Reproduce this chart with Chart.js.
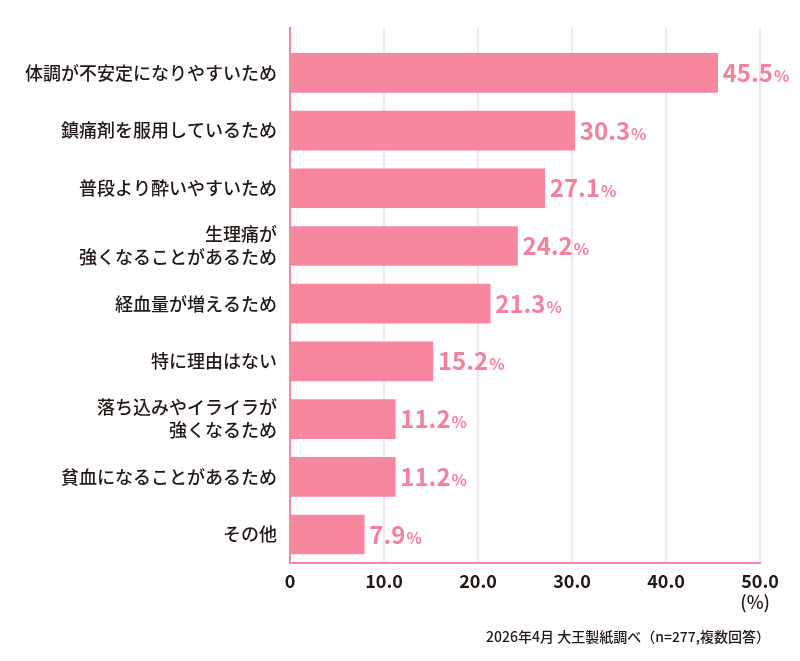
<!DOCTYPE html>
<html>
<head>
<meta charset="utf-8">
<script src="https://cdn.jsdelivr.net/npm/chart.js@4"></script>
<style>
  html, body { margin: 0; padding: 0; background: #fff; }
  #wrap { width: 800px; height: 661px; }
</style>
</head>
<body>
<div id="wrap"><canvas id="reasonChart" width="800" height="661"></canvas></div>
<script>
const categories = [
    '体調が不安定になりやすいため',
    '鎮痛剤を服用しているため',
    '普段より酔いやすいため',
    ['生理痛が', '強くなることがあるため'],
    '経血量が増えるため',
    '特に理由はない',
    ['落ち込みやイライラが', '強くなるため'],
    '貧血になることがあるため',
    'その他'
];
const percentages = [45.5, 30.3, 27.1, 24.2, 21.3, 15.2, 11.2, 11.2, 7.9];
const tickLabels = ['0', '10.0', '20.0', '30.0', '40.0', '50.0'];
const unitLabel = '(%)';
const sourceNote = '2026年4月 大王製紙調べ（n=277,複数回答）';

const PINK = '#f7879f';
const TEXT = '#231815';
const FONT = '"Noto Sans CJK JP", "Noto Sans", sans-serif';

// draws value labels, the axis/grid extension above the bars and the notes
const extrasPlugin = {
    id: 'extras',
    beforeDatasetsDraw(chart) {
        const { ctx, chartArea, scales } = chart;
        const topY = 27;
        ctx.save();
        ctx.lineWidth = 2;
        ctx.strokeStyle = '#f5e6eb';
        for (let v = 10; v <= 50; v += 10) {
            const x = Math.round(scales.x.getPixelForValue(v));
            ctx.beginPath();
            ctx.moveTo(x, topY);
            ctx.lineTo(x, chartArea.top);
            ctx.stroke();
        }
        ctx.strokeStyle = PINK;
        const x0 = scales.x.getPixelForValue(0);
        ctx.beginPath();
        ctx.moveTo(x0, topY);
        ctx.lineTo(x0, chartArea.top + 1);
        ctx.stroke();
        ctx.restore();
    },
    afterDatasetsDraw(chart) {
        const { ctx } = chart;
        const meta = chart.getDatasetMeta(0);
        ctx.save();
        ctx.textBaseline = 'alphabetic';
        ctx.textAlign = 'left';
        ctx.fillStyle = '#f4819b';
        meta.data.forEach((bar, i) => {
            const num = percentages[i].toFixed(1);
            const x = bar.x + 5;
            const y = bar.y + 9;
            ctx.font = 'bold 24px ' + FONT;
            ctx.fillText(num, x, y);
            const w = ctx.measureText(num).width;
            ctx.font = 'bold 16px ' + FONT;
            ctx.fillText('%', x + w + 1, y);
        });
        ctx.fillStyle = TEXT;
        ctx.textAlign = 'right';
        ctx.textBaseline = 'middle';
        ctx.font = '500 18px ' + FONT;
        ctx.fillText(unitLabel, 770, 602);
        ctx.font = '500 14px ' + FONT;
        ctx.fillText(sourceNote, 770, 637);
        ctx.restore();
    }
};

const ctx = document.getElementById('reasonChart').getContext('2d');
const reasonChart = new Chart(ctx, {
    type: 'bar',
    data: {
        labels: categories,
        datasets: [{
            data: percentages,
            backgroundColor: PINK,
            borderWidth: 0,
            barThickness: 39
        }]
    },
    options: {
        indexAxis: 'y',
        responsive: false,
        animation: false,
        layout: {
            padding: { top: 44, right: 40, bottom: 62, left: 10 }
        },
        plugins: {
            legend: { display: false },
            tooltip: { enabled: false }
        },
        scales: {
            x: {
                min: 0,
                max: 50,
                ticks: {
                    stepSize: 10,
                    padding: 7,
                    color: TEXT,
                    font: { family: FONT, size: 18, weight: 'bold' },
                    callback: (v, i) => tickLabels[i]
                },
                grid: {
                    color: '#f5e6eb',
                    lineWidth: 2,
                    drawTicks: false
                },
                border: { color: PINK, width: 2 }
            },
            y: {
                afterFit: (scale) => { scale.width = 280; },
                ticks: {
                    padding: 13,
                    color: TEXT,
                    font: { family: FONT, size: 18, weight: '500', lineHeight: 1.28 }
                },
                grid: { display: false, drawTicks: false },
                border: { color: PINK, width: 2 }
            }
        }
    },
    plugins: [extrasPlugin]
});
</script>
</body>
</html>
